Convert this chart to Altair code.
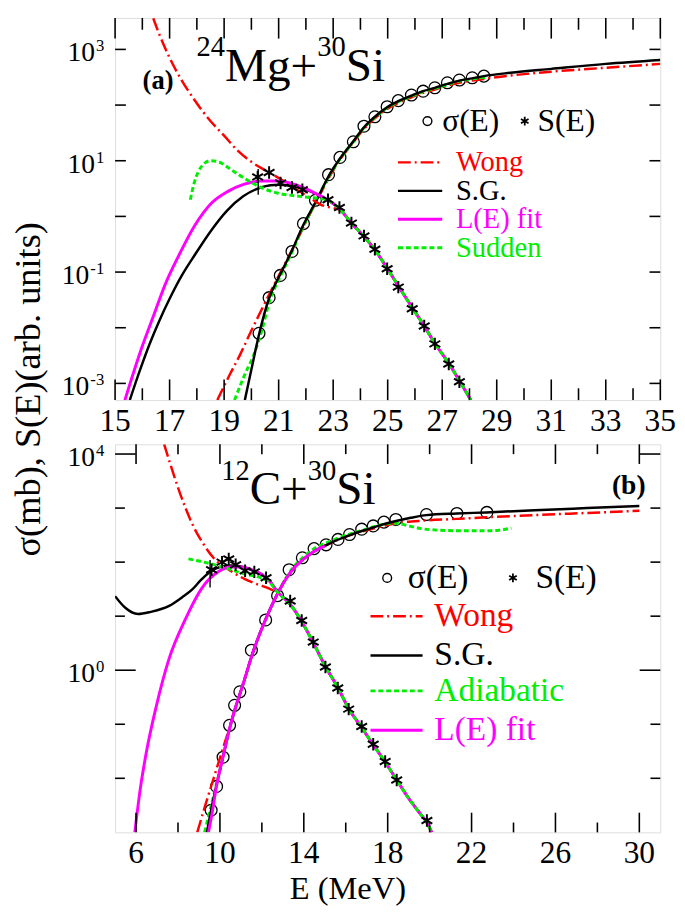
import altair as alt
import pandas as pd

FONT = "Liberation Serif"
RED, BLACK, MAG, GREEN = "#ff0000", "#000000", "#ff00ff", "#00ee00"
WONG_DASH = [13, 4, 2, 4]
GREEN_DASH = [5, 3]

# ---------------- Panel (a): 24Mg+30Si  (y values are log10 of the plotted quantity)
a_sigma_E = [20.28, 20.65, 21.06, 21.49, 21.91, 22.35, 22.83, 23.25, 23.74, 24.13,
             24.53, 24.98, 25.39, 25.87, 26.30, 26.73, 27.19, 27.63, 28.10, 28.53]
a_sigma_lg = [-2.10, -1.46, -1.06, -0.63, -0.13, 0.29, 0.75, 1.06, 1.34, 1.62,
              1.79, 1.97, 2.08, 2.18, 2.25, 2.31, 2.40, 2.45, 2.49, 2.52]
a_S_E = [20.23, 20.65, 21.07, 21.49, 21.87, 22.81, 23.23, 23.67, 24.13, 24.53,
         24.98, 25.39, 25.90, 26.34, 26.73, 27.24, 27.63]
a_S_lg = [0.71, 0.79, 0.60, 0.52, 0.48, 0.30, 0.16, -0.12, -0.35, -0.59,
          -0.94, -1.27, -1.66, -1.97, -2.29, -2.65, -2.97]
a_err_E = [20.25]
a_err_lo = [0.39]
a_err_hi = [0.85]

a_sg_sigma_E = [19.76, 20.00, 20.28, 20.65, 21.06, 21.49, 21.90, 22.39, 22.83, 23.25, 23.74,
                24.13, 24.53, 24.98, 25.39, 25.87, 26.30, 26.73, 27.19, 27.63, 28.10, 28.53,
                29.50, 31.00, 33.00, 35.00]
a_sg_sigma_lg = [-3.30, -2.75, -2.12, -1.47, -1.04, -0.61, -0.16, 0.29, 0.72, 1.04, 1.35,
                 1.60, 1.79, 1.96, 2.07, 2.17, 2.25, 2.31, 2.38, 2.44, 2.48, 2.52,
                 2.58, 2.65, 2.74, 2.81]
a_wong_sigma_E = [18.75, 19.20, 19.60, 20.00, 20.40, 20.80, 21.20, 21.60, 22.00, 22.40, 22.83,
                  23.25, 23.74, 24.13, 24.53, 24.98, 25.39, 25.87, 26.30, 26.73, 27.19, 27.63,
                  28.10, 28.53, 29.50, 31.00, 33.00, 35.00]
a_wong_sigma_lg = [-3.30, -2.85, -2.47, -2.05, -1.65, -1.26, -0.88, -0.50, -0.10, 0.28, 0.68,
                   1.02, 1.33, 1.57, 1.76, 1.93, 2.04, 2.14, 2.22, 2.28, 2.35, 2.40,
                   2.44, 2.47, 2.53, 2.60, 2.67, 2.74]
a_sudden_sigma_E = [19.38, 19.75, 20.10, 20.40, 20.65, 21.06, 21.49, 21.90, 22.39, 22.83, 23.25,
                    23.74, 24.13, 24.53, 24.98, 25.39, 25.87, 26.30, 26.73, 27.19, 27.63, 28.10, 28.60]
a_sudden_sigma_lg = [-3.30, -2.85, -2.47, -2.02, -1.55, -1.08, -0.64, -0.18, 0.28, 0.71, 1.03,
                     1.34, 1.59, 1.78, 1.95, 2.06, 2.16, 2.24, 2.30, 2.37, 2.43, 2.47, 2.50]

# falling branch shared by all S(E) curves of panel (a)
a_down_E = [23.23, 23.67, 24.13, 24.53, 24.98, 25.39, 25.90, 26.34, 26.73, 27.24, 27.63, 28.05]
a_down_lg = [0.14, -0.12, -0.36, -0.60, -0.93, -1.25, -1.64, -1.97, -2.28, -2.64, -2.95, -3.30]

a_sg_S_E = [15.54, 15.90, 16.26, 16.60, 17.00, 17.45, 17.94, 18.50, 19.10, 19.70, 20.35,
            20.70, 21.00, 21.40, 21.88, 22.40, 22.81]
a_sg_S_lg = [-3.30, -2.78, -2.30, -1.90, -1.48, -1.06, -0.68, -0.27, 0.10, 0.36, 0.52,
             0.56, 0.57, 0.55, 0.50, 0.40, 0.29]
a_L_S_E = [15.36, 15.90, 16.40, 16.84, 17.34, 17.94, 18.54, 19.14, 19.74, 20.35, 20.95,
           21.55, 21.88, 22.40, 22.81]
a_L_S_lg = [-3.30, -2.47, -1.80, -1.22, -0.70, -0.15, 0.24, 0.45, 0.58, 0.635, 0.635,
            0.58, 0.52, 0.40, 0.29]
a_wong_S_E = [16.40, 16.60, 17.00, 17.40, 17.90, 18.42, 19.00, 19.50, 20.00, 20.50, 20.90,
              21.30, 21.70, 22.10, 22.60, 23.00, 23.23]
a_wong_S_lg = [3.56, 3.30, 2.85, 2.48, 2.10, 1.76, 1.45, 1.18, 0.98, 0.83, 0.72,
               0.60, 0.47, 0.35, 0.20, 0.15, 0.12]
a_sudden_S_E = [17.76, 17.90, 18.05, 18.25, 18.50, 18.80, 19.14, 19.50, 19.86, 20.35, 20.95,
                21.60, 22.15, 22.50, 22.81]
a_sudden_S_lg = [0.30, 0.60, 0.80, 0.94, 1.00, 0.98, 0.88, 0.76, 0.65, 0.52, 0.42,
                 0.37, 0.34, 0.32, 0.29]

# ---------------- Panel (b): 12C+30Si
b_sigma_E = [9.58, 9.84, 10.15, 10.46, 10.70, 10.95, 11.50, 12.18, 12.75, 13.30, 13.93,
             14.49, 15.06, 15.63, 16.18, 16.76, 17.31, 17.82, 18.39, 19.85, 21.30, 22.73]
b_sigma_lg = [-2.59, -2.15, -1.61, -1.02, -0.65, -0.40, 0.37, 0.93, 1.38, 1.86, 2.08,
              2.25, 2.32, 2.42, 2.51, 2.61, 2.67, 2.74, 2.79, 2.88, 2.90, 2.92]
b_S_E = [9.60, 10.10, 10.42, 10.75, 11.20, 11.64, 12.20, 13.35, 13.90, 14.45, 15.03,
         15.62, 16.14, 16.76, 17.31, 17.88, 18.43, 19.87]
b_S_lg = [1.86, 2.00, 2.06, 1.95, 1.84, 1.82, 1.71, 1.28, 0.92, 0.52, 0.06,
          -0.33, -0.72, -1.04, -1.37, -1.69, -2.03, -2.78]
b_err_E = [9.53]
b_err_lo = [1.53]
b_err_hi = [2.04]

b_sg_sigma_E = [9.38, 9.60, 9.84, 10.15, 10.46, 10.75, 11.07, 11.60, 12.20, 12.70, 13.20, 13.60,
                14.00, 14.50, 15.10, 15.60, 16.20, 16.80, 17.30, 17.80, 18.40, 19.10, 19.85,
                21.30, 22.70, 25.00, 27.50, 30.00]
b_sg_sigma_lg = [-3.00, -2.55, -2.12, -1.60, -1.08, -0.68, -0.30, 0.36, 0.96, 1.38, 1.72, 1.92,
                 2.06, 2.20, 2.32, 2.41, 2.50, 2.58, 2.64, 2.70, 2.76, 2.82, 2.87,
                 2.90, 2.92, 2.96, 3.00, 3.04]
b_wong_sigma_E = [8.92, 9.30, 9.70, 10.10, 10.46, 10.75, 11.07, 11.60, 12.20, 12.70, 13.20, 13.60,
                  14.00, 14.50, 15.10, 15.60, 16.20, 16.80, 17.30, 17.80, 18.40, 19.80, 21.30,
                  22.70, 25.00, 27.50, 30.00]
b_wong_sigma_lg = [-3.00, -2.50, -2.00, -1.50, -1.06, -0.68, -0.30, 0.36, 0.96, 1.38, 1.72, 1.92,
                   2.06, 2.20, 2.32, 2.41, 2.50, 2.57, 2.62, 2.67, 2.72, 2.77, 2.80,
                   2.83, 2.87, 2.91, 2.95]
b_adia_sigma_E = [9.27, 9.60, 9.84, 10.15, 10.46, 10.75, 11.07, 11.60, 12.20, 12.70, 13.20, 13.60,
                  14.00, 14.50, 15.10, 15.60, 16.20, 16.80, 17.30, 17.80, 18.40, 19.00, 19.60,
                  20.50, 21.50, 22.70, 23.30, 23.90]
b_adia_sigma_lg = [-3.00, -2.48, -2.10, -1.60, -1.08, -0.68, -0.30, 0.36, 0.96, 1.38, 1.74, 1.95,
                   2.10, 2.25, 2.36, 2.44, 2.52, 2.59, 2.65, 2.70, 2.72, 2.67, 2.62,
                   2.59, 2.58, 2.58, 2.59, 2.63]
b_L_sigma_E = [9.45, 9.60, 9.84, 10.15, 10.46, 10.75, 11.07, 11.60, 12.20, 12.70, 13.20, 13.60,
               14.00, 14.50, 15.00]
b_L_sigma_lg = [-3.00, -2.70, -2.14, -1.60, -1.08, -0.68, -0.30, 0.36, 0.96, 1.38, 1.72, 1.92,
                2.06, 2.20, 2.30]

# falling branch shared by all S(E) curves of panel (b)
b_down_E = [13.35, 13.90, 14.45, 15.03, 15.62, 16.14, 16.76, 17.31, 17.88, 18.43, 19.00, 19.50, 19.87, 20.10]
b_down_lg = [1.22, 0.90, 0.51, 0.07, -0.32, -0.71, -1.06, -1.38, -1.70, -2.03, -2.37, -2.63, -2.82, -3.00]

b_sg_S_E = [5.00, 5.50, 6.09, 6.70, 7.58, 8.20, 8.67, 9.10, 9.60, 10.00, 10.54, 11.00, 11.50,
            12.00, 12.40, 12.75]
b_sg_S_lg = [1.37, 1.15, 1.04, 1.08, 1.19, 1.35, 1.49, 1.67, 1.84, 1.91, 1.94, 1.92, 1.86,
             1.77, 1.64, 1.45]
b_L_S_E = [5.94, 6.20, 6.50, 6.95, 7.58, 8.36, 9.14, 9.92, 10.54, 11.00, 11.50, 12.00, 12.40, 12.75]
b_L_S_lg = [-3.00, -2.20, -1.50, -0.69, 0.22, 0.95, 1.52, 1.82, 1.91, 1.91, 1.86, 1.77, 1.63, 1.45]
b_wong_S_E = [7.34, 7.58, 8.00, 8.36, 8.75, 9.14, 9.76, 10.39, 11.17, 11.79, 12.30, 12.75]
b_wong_S_lg = [4.18, 3.88, 3.38, 3.00, 2.65, 2.38, 2.05, 1.87, 1.69, 1.59, 1.52, 1.43]
b_adia_S_E = [8.50, 9.00, 9.76, 10.30, 10.85, 11.30, 11.79, 12.41, 12.75]
b_adia_S_lg = [2.06, 2.02, 1.95, 1.89, 1.82, 1.77, 1.73, 1.61, 1.44]

# ---------------- axes / ticks / text
a_xlabels = [15, 17, 19, 21, 23, 25, 27, 29, 31, 33, 35]
a_xminor = [16, 18, 20, 22, 24, 26, 28, 30, 32, 34]
a_ylabels = [3, 1, -1, -3]
a_yticks = [3, 2, 1, 0, -1, -2, -3]
b_xlabels = [6, 10, 14, 18, 22, 26, 30]
b_xminor = [8, 12, 16, 20, 24, 28]
b_ylabels = [4, 0]
b_yminor = [3, 2, 1, -1, -2]

a_title_parts = ["24", "Mg+", "30", "Si"]
b_title_parts = ["12", "C+", "30", "Si"]
a_legend = ["Wong", "S.G.", "L(E) fit", "Sudden"]
b_legend = ["Wong", "S.G.", "Adiabatic", "L(E) fit"]
sym_labels = ["σ(E)", "S(E)"]
y_title = "σ(mb), S(E)(arb. units)"
x_title = "E (MeV)"

W = 555
HA = 389
HB = 395
STAR = "M0,-1L0,1M-0.866,-0.5L0.866,0.5M-0.866,0.5L0.866,-0.5"


def tbl(E, L):
    return pd.DataFrame({"E": E, "lg": L, "k": list(range(len(E)))})


def line(E, L, xs, ys, color, width, dash=None):
    kw = dict(color=color, strokeWidth=width, clip=True, interpolate="monotone")
    if dash:
        kw["strokeDash"] = dash
    return alt.Chart(tbl(E, L)).mark_line(**kw).encode(
        x=alt.X("E:Q", scale=xs, axis=None),
        y=alt.Y("lg:Q", scale=ys, axis=None),
        order="k:Q")


def points(E, L, xs, ys, shape, size, sw=1.3):
    return alt.Chart(tbl(E, L)).mark_point(shape=shape, filled=False, color="black",
                                          size=size, strokeWidth=sw, clip=True, opacity=1).encode(
        x=alt.X("E:Q", scale=xs, axis=None),
        y=alt.Y("lg:Q", scale=ys, axis=None))


def errbar(E, lo, hi, xs, ys):
    return alt.Chart(pd.DataFrame({"E": E, "lo": lo, "hi": hi})).mark_rule(
        color="black", strokeWidth=1.4).encode(
        x=alt.X("E:Q", scale=xs, axis=None),
        y=alt.Y("lo:Q", scale=ys, axis=None), y2="hi:Q")


def xticks(vals, xs, length, H):
    df = pd.DataFrame({"v": vals})
    base = alt.Chart(df).mark_rule(color="black", strokeWidth=1.6)
    return [base.encode(x=alt.X("v:Q", scale=xs, axis=None), y=alt.value(0), y2=alt.value(length)),
            base.encode(x=alt.X("v:Q", scale=xs, axis=None), y=alt.value(H), y2=alt.value(H - length))]


def yticks(vals, ys, length):
    df = pd.DataFrame({"v": vals})
    base = alt.Chart(df).mark_rule(color="black", strokeWidth=1.6)
    return [base.encode(y=alt.Y("v:Q", scale=ys, axis=None), x=alt.value(0), x2=alt.value(length)),
            base.encode(y=alt.Y("v:Q", scale=ys, axis=None), x=alt.value(W), x2=alt.value(W - length))]


def xlabels(vals, xs, H):
    df = pd.DataFrame({"v": vals, "t": [str(v) for v in vals]})
    return alt.Chart(df).mark_text(font=FONT, fontSize=32, align="center", baseline="alphabetic",
                                   color="black").encode(
        x=alt.X("v:Q", scale=xs, axis=None), y=alt.value(H + 31), text="t:N")


def ylabels(vals, ys):
    out = []
    for v in vals:
        e = str(v)
        w = 8.5 * sum(ch.isdigit() for ch in e) + (5.7 if "-" in e else 0)
        df = pd.DataFrame({"v": [v], "b": ["10"], "e": [e]})
        out.append(alt.Chart(df).mark_text(font=FONT, fontSize=28, align="right",
                                           baseline="alphabetic", dy=12, color="black").encode(
            x=alt.value(-12 - w), y=alt.Y("v:Q", scale=ys, axis=None), text="b:N"))
        out.append(alt.Chart(df).mark_text(font=FONT, fontSize=17, align="right",
                                           baseline="alphabetic", dy=2, color="black").encode(
            x=alt.value(-11), y=alt.Y("v:Q", scale=ys, axis=None), text="e:N"))
    return out


def text(t, x, y, size, color="black", align="left", baseline="middle", weight="normal", angle=0):
    kw = dict(align=align, baseline=baseline, font=FONT, fontSize=size, color=color,
              fontWeight=weight)
    if angle:
        kw["angle"] = angle
    return alt.Chart(pd.DataFrame({"t": [t]})).mark_text(**kw).encode(
        x=alt.value(x), y=alt.value(y), text="t:N")


def hline(x1, x2, y, color, width, dash=None):
    kw = dict(color=color, strokeWidth=width)
    if dash:
        kw["strokeDash"] = dash
    return alt.Chart(pd.DataFrame({"a": [0]})).mark_rule(**kw).encode(
        x=alt.value(x1), x2=alt.value(x2), y=alt.value(y))


def sym(x, y, shape, size, sw=1.4):
    return alt.Chart(pd.DataFrame({"a": [0]})).mark_point(
        shape=shape, filled=False, color="black", size=size, strokeWidth=sw, opacity=1).encode(
        x=alt.value(x), y=alt.value(y))


def title(parts, x0, base, big=48, small=29):
    # parts alternate: superscript mass number, element symbol
    out = []
    x = x0
    widths = {"M": 0.889, "g": 0.5, "+": 0.564, "C": 0.667, "S": 0.556, "i": 0.278}
    for i, p in enumerate(parts):
        if i % 2 == 0:
            out.append(text(p, x, base - 25, small, baseline="alphabetic"))
            x += 0.5 * small * len(p)
        else:
            out.append(text(p, x, base, big, baseline="alphabetic"))
            x += big * sum(widths.get(ch, 0.5) for ch in p)
    return out


# ---------------- panel (a)
xa = alt.Scale(domain=[15, 35], nice=False, zero=False)
ya = alt.Scale(domain=[-3.3, 3.565], nice=False, zero=False)

la = [
    points(a_sigma_E, a_sigma_lg, xa, ya, "circle", 145),
    line(a_wong_sigma_E, a_wong_sigma_lg, xa, ya, RED, 2.5, WONG_DASH),
    line(a_sudden_sigma_E, a_sudden_sigma_lg, xa, ya, GREEN, 3, GREEN_DASH),
    line(a_sg_sigma_E, a_sg_sigma_lg, xa, ya, BLACK, 2.5),
    line(a_wong_S_E + a_down_E[1:], a_wong_S_lg + a_down_lg[1:], xa, ya, RED, 2.5, WONG_DASH),
    line(a_sg_S_E + a_down_E, a_sg_S_lg + a_down_lg, xa, ya, BLACK, 2.5),
    line(a_L_S_E + a_down_E, a_L_S_lg + a_down_lg, xa, ya, MAG, 3),
    line(a_sudden_S_E + a_down_E, a_sudden_S_lg + a_down_lg, xa, ya, GREEN, 3, GREEN_DASH),
    points(a_S_E, a_S_lg, xa, ya, STAR, 160, 2),
    errbar(a_err_E, a_err_lo, a_err_hi, xa, ya),
]
la += xticks(a_xlabels, xa, 21, HA) + xticks(a_xminor, xa, 12, HA) + yticks(a_yticks, ya, 11)
la += [xlabels(a_xlabels, xa, HA)] + ylabels(a_ylabels, ya)
la += title(a_title_parts, 83, 64)
la += [
    text("(a)", 28, 64, 27, weight="bold"),
    sym(318, 105, "circle", 80),
    text(sym_labels[0], 333, 105, 32),
    sym(417, 105, STAR, 80, 1.8),
    text(sym_labels[1], 430, 105, 32),
    hline(288, 333, 147, RED, 2.5, WONG_DASH),
    hline(288, 333, 176, BLACK, 2.5),
    hline(288, 333, 205, MAG, 3),
    hline(288, 333, 234, GREEN, 3, GREEN_DASH),
    text(a_legend[0], 347, 147, 29, color=RED),
    text(a_legend[1], 347, 176, 29, color=BLACK),
    text(a_legend[2], 347, 205, 29, color=MAG),
    text(a_legend[3], 347, 234, 29, color=GREEN),
    text(y_title, -87, 378, 37, align="center", baseline="middle", angle=270),
]
panel_a = alt.layer(*la).properties(width=W, height=HA)

# ---------------- panel (b)
xb = alt.Scale(domain=[5, 31], nice=False, zero=False)
yb = alt.Scale(domain=[-3.0, 4.18], nice=False, zero=False)

lb = [
    points(b_sigma_E, b_sigma_lg, xb, yb, "circle", 145),
    line(b_wong_sigma_E, b_wong_sigma_lg, xb, yb, RED, 2.5, WONG_DASH),
    line(b_adia_sigma_E, b_adia_sigma_lg, xb, yb, GREEN, 3, GREEN_DASH),
    line(b_sg_sigma_E, b_sg_sigma_lg, xb, yb, BLACK, 2.5),
    line(b_L_sigma_E, b_L_sigma_lg, xb, yb, MAG, 3),
    line(b_wong_S_E + b_down_E, b_wong_S_lg + b_down_lg, xb, yb, RED, 2.5, WONG_DASH),
    line(b_sg_S_E + b_down_E, b_sg_S_lg + b_down_lg, xb, yb, BLACK, 2.5),
    line(b_L_S_E + b_down_E, b_L_S_lg + b_down_lg, xb, yb, MAG, 3),
    line(b_adia_S_E + b_down_E, b_adia_S_lg + b_down_lg, xb, yb, GREEN, 3, GREEN_DASH),
    points(b_S_E, b_S_lg, xb, yb, STAR, 160, 2),
    errbar(b_err_E, b_err_lo, b_err_hi, xb, yb),
]
lb += xticks(b_xlabels, xb, 20, HB) + xticks(b_xminor, xb, 10, HB)
lb += yticks(b_ylabels, yb, 21) + yticks(b_yminor, yb, 10)
lb += [xlabels(b_xlabels, xb, HB)] + ylabels(b_ylabels, yb)
lb += title(b_title_parts, 108, 61)
lb += [
    text("(b)", 540, 43, 28, align="right", weight="bold"),
    sym(277, 136, "circle", 80),
    text(sym_labels[0], 298, 136, 34),
    sym(405, 136, STAR, 80, 1.8),
    text(sym_labels[1], 428, 136, 34),
    hline(260, 313, 175, RED, 2.5, WONG_DASH),
    hline(260, 313, 215, BLACK, 2.5),
    hline(260, 313, 251, GREEN, 3, GREEN_DASH),
    hline(260, 313, 291, MAG, 3),
    text(b_legend[0], 325, 175, 34, color=RED),
    text(b_legend[1], 325, 215, 34, color=BLACK),
    text(b_legend[2], 325, 251, 34, color=GREEN),
    text(b_legend[3], 325, 291, 34, color=MAG),
    text(x_title, 237, 463, 33, align="center", baseline="alphabetic"),
]
panel_b = alt.layer(*lb).properties(width=W, height=HB)

chart = alt.vconcat(panel_a, panel_b, spacing=45, bounds="flush").resolve_scale(
    x="independent", y="independent"
).properties(
    padding={"left": 2, "top": 0, "right": 0, "bottom": 0}
).configure_view(stroke="black", strokeWidth=2).configure(background="white")

chart.save("out.html", embed_options={"renderer": "svg", "actions": False})
